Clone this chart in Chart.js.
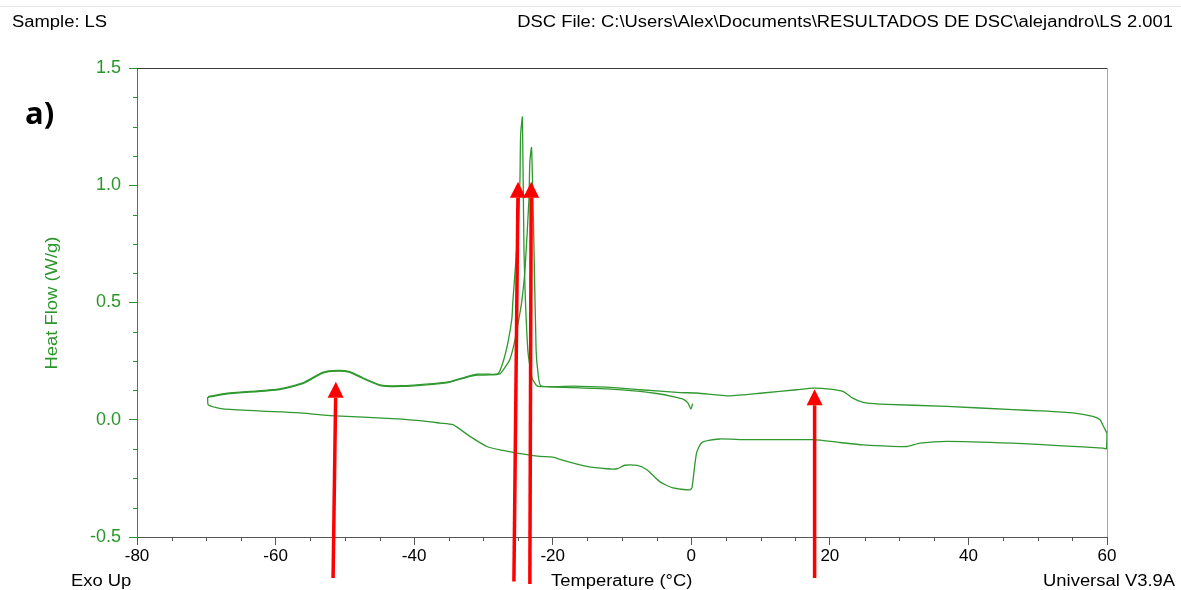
<!DOCTYPE html>
<html>
<head>
<meta charset="utf-8">
<script src="https://cdn.jsdelivr.net/npm/chart.js@4.4.0/dist/chart.umd.min.js"></script>
<style>
  body { margin: 0; background: #fff; }
</style>
</head>
<body>
<canvas id="dsc" width="1181" height="590"></canvas>
<script>
// DSC trace: temperature (°C) vs heat flow (W/g)
// first cooling, starts at 0 °C
const cool1Temp = [0.2, -0.06, -0.5, -1.2, -2.65, -5, -7.4, -12.2, -17, -21.5, -22.3, -23.0, -23.6, -24.15, -24.37, -24.63, -24.73, -25.0, -25.74, -25.9, -26.46, -27.2, -27.9, -29.1, -30.9, -32.4, -34.8, -37.3, -42.0, -44.9, -47.4, -49.3, -51.1, -53.2, -56.0, -59.4, -66.6, -69.75];
const cool1Flow = [0.068, 0.046, 0.072, 0.088, 0.099, 0.112, 0.121, 0.132, 0.137, 0.141, 0.145, 0.18, 0.30, 0.725, 1.29, 1.215, 1.02, 0.81, 0.51, 0.43, 0.33, 0.243, 0.196, 0.194, 0.194, 0.184, 0.163, 0.154, 0.145, 0.149, 0.179, 0.205, 0.21, 0.202, 0.158, 0.132, 0.114, 0.099];

// heating -70 -> 60 °C
const heatTemp = [-69.8, -69.7, -67.6, -62, -56.9, -52.15, -42.5, -39.2, -36.3, -34.4, -31.95, -29.5, -27.2, -25.2, -21.85, -20.0, -17.95, -15.1, -12.2, -10.7, -9.6, -7.8, -6.4, -4.5, -2.65, -0.2, 0.1, 0.76, 1.48, 2.5, 4.1, 8.0, 17.6, 21.45, 24.8, 31.1, 33.0, 36.9, 46.4, 53.6, 59.4, 59.9, 60.0];
const heatFlow = [0.097, 0.063, 0.046, 0.037, 0.030, 0.018, 0.004, -0.004, -0.014, -0.021, -0.071, -0.114, -0.131, -0.142, -0.156, -0.159, -0.178, -0.199, -0.209, -0.209, -0.194, -0.195, -0.213, -0.265, -0.291, -0.299, -0.29, -0.141, -0.098, -0.088, -0.082, -0.085, -0.085, -0.097, -0.107, -0.114, -0.1, -0.092, -0.1, -0.111, -0.121, -0.124, -0.057];

// second cooling 60 -> -70 °C
const cool2Temp = [60.0, 59.5, 59.0, 57.95, 55.1, 50.3, 46.4, 36.9, 27.2, 24.8, 23.3, 21.9, 20.0, 17.6, 15.2, 10.3, 5.6, 0.8, -1.6, -7.4, -12.2, -17, -21.7, -22.14, -22.4, -22.7, -23.05, -23.3, -23.43, -24.0, -24.44, -24.73, -25.45, -26.2, -27.2, -27.6, -29.1, -30.9, -32.4, -34.8, -37.3, -42.0, -44.9, -47.4, -49.3, -51.1, -53.2, -56.0, -59.4, -66.6, -69.75];
const cool2Flow = [-0.057, -0.029, 0.0, 0.014, 0.029, 0.038, 0.043, 0.057, 0.067, 0.074, 0.092, 0.121, 0.131, 0.135, 0.128, 0.114, 0.102, 0.114, 0.116, 0.128, 0.139, 0.143, 0.145, 0.205, 0.30, 0.725, 1.16, 1.10, 0.94, 0.64, 0.51, 0.456, 0.34, 0.256, 0.21, 0.196, 0.191, 0.19, 0.181, 0.161, 0.151, 0.142, 0.146, 0.176, 0.202, 0.207, 0.199, 0.155, 0.129, 0.111, 0.096];

// axis range / ticks
const xMin = -80, xMax = 60, xStep = 20, xMinor = 5;
const yMin = -0.5, yMax = 1.5, yStep = 0.5, yMinor = 0.125;

// red arrows (annotations): tip and tail in data units
const arrowTipTemp = [-51.3, -25.0, -23.1, 17.8];
const arrowTipFlow = [0.162, 1.015, 1.015, 0.13];
const arrowTailTemp = [-51.7, -25.6, -23.3, 17.8];
const arrowTailFlow = [-0.675, -0.69, -0.70, -0.675];

const GREEN = '#2a962a';
const LINE = '#2f982f';
const FONT = '"Liberation Sans", Arial, sans-serif';

function toPoints(ts, vs) {
  return ts.map((t, i) => ({ x: t, y: vs[i] }));
}

// stretched text like the instrument printout
function stretchText(ctx, str, x, y, align, font, color, sx) {
  ctx.save();
  ctx.font = font;
  ctx.fillStyle = color;
  ctx.textAlign = align;
  ctx.translate(x, y);
  ctx.scale(sx, 1);
  ctx.fillText(str, 0, 0);
  ctx.restore();
}

function seg(ctx, x1, y1, x2, y2) {
  ctx.beginPath();
  ctx.moveTo(x1, y1);
  ctx.lineTo(x2, y2);
  ctx.stroke();
}

const decor = {
  id: 'decor',
  beforeDraw(chart) {
    const ctx = chart.ctx;
    ctx.save();
    ctx.fillStyle = '#fff';
    ctx.fillRect(0, 0, chart.width, chart.height);
    ctx.strokeStyle = '#e6e6e6';
    ctx.lineWidth = 1;
    seg(ctx, 0, 6.5, chart.width, 6.5);
    ctx.restore();
  },
  afterDatasetsDraw(chart) {
    const { ctx, scales: { x, y } } = chart;
    ctx.save();
    ctx.strokeStyle = '#ff0000';
    ctx.fillStyle = '#ff0000';
    ctx.lineWidth = 3.5;
    arrowTipTemp.forEach((t, i) => {
      const tx = x.getPixelForValue(t), ty = y.getPixelForValue(arrowTipFlow[i]);
      const bx = x.getPixelForValue(arrowTailTemp[i]), by = y.getPixelForValue(arrowTailFlow[i]);
      const ang = Math.atan2(ty - by, tx - bx);
      const hl = 16, hw = 8;
      const hx = tx - hl * Math.cos(ang), hy = ty - hl * Math.sin(ang);
      seg(ctx, bx, by, hx, hy);
      ctx.beginPath();
      ctx.moveTo(tx, ty);
      ctx.lineTo(hx + hw * Math.sin(ang), hy - hw * Math.cos(ang));
      ctx.lineTo(hx - hw * Math.sin(ang), hy + hw * Math.cos(ang));
      ctx.closePath();
      ctx.fill();
    });
    ctx.restore();
  },
  afterDraw(chart) {
    const { ctx, chartArea: a, scales: { x, y } } = chart;
    ctx.save();
    ctx.lineWidth = 1;
    // frame: dark top, green right
    ctx.strokeStyle = '#3c3c3c';
    seg(ctx, a.left, a.top + 0.5, a.right, a.top + 0.5);
    ctx.strokeStyle = '#7cc47c';
    seg(ctx, a.right + 0.5, a.top, a.right + 0.5, a.bottom);

    // minor ticks
    ctx.strokeStyle = '#555';
    for (let t = xMin; t <= xMax; t += xMinor) {
      if ((t - xMin) % xStep === 0) continue;
      const px = Math.round(x.getPixelForValue(t)) + 0.5;
      seg(ctx, px, a.bottom, px, a.bottom + 4);
    }
    ctx.strokeStyle = GREEN;
    for (let v = yMin; v <= yMax + 1e-9; v += yMinor) {
      if (Math.abs((v - yMin) / yStep - Math.round((v - yMin) / yStep)) < 1e-6) continue;
      const py = Math.round(y.getPixelForValue(v)) + 0.5;
      seg(ctx, a.left - 4, py, a.left, py);
    }

    // header / footer texts
    const f = '16px ' + FONT;
    stretchText(ctx, 'Sample: LS', 12, 27, 'left', f, '#000', 1.15);
    stretchText(ctx, 'DSC File: C:\\Users\\Alex\\Documents\\RESULTADOS DE DSC\\alejandro\\LS 2.001', 1173, 27, 'right', f, '#000', 1.15);
    stretchText(ctx, 'Exo Up', 71, 586, 'left', f, '#000', 1.15);
    stretchText(ctx, 'Temperature (°C)', 551, 586, 'left', f, '#000', 1.15);
    stretchText(ctx, 'Universal V3.9A', 1175, 586, 'right', f, '#000', 1.15);
    stretchText(ctx, 'a)', 25, 124, 'left', 'bold 31px "Open Sans", sans-serif', '#000', 1);

    // y axis title
    ctx.save();
    ctx.translate(57, 303);
    ctx.rotate(-Math.PI / 2);
    ctx.scale(1.15, 1);
    ctx.font = f;
    ctx.fillStyle = GREEN;
    ctx.textAlign = 'center';
    ctx.fillText('Heat Flow (W/g)', 0, 0);
    ctx.restore();
    ctx.restore();
  }
};

const lineStyle = {
  borderColor: LINE,
  borderWidth: 1.3,
  pointRadius: 0,
  showLine: true,
  fill: false,
  tension: 0.2,
  clip: 4
};

new Chart(document.getElementById('dsc').getContext('2d'), {
  type: 'scatter',
  data: {
    datasets: [
      { label: 'Cooling 1', data: toPoints(cool1Temp, cool1Flow), ...lineStyle },
      { label: 'Heating', data: toPoints(heatTemp, heatFlow), ...lineStyle },
      { label: 'Cooling 2', data: toPoints(cool2Temp, cool2Flow), ...lineStyle }
    ]
  },
  options: {
    responsive: false,
    animation: false,
    devicePixelRatio: 1,
    layout: { padding: { top: 68, right: 74, left: 0, bottom: 0 } },
    plugins: { legend: { display: false }, tooltip: { enabled: false } },
    scales: {
      x: {
        type: 'linear',
        min: xMin,
        max: xMax,
        afterFit: s => { s.height = 53; },
        ticks: {
          stepSize: xStep,
          color: '#000',
          font: { family: FONT, size: 17 },
          padding: 1,
          maxRotation: 0
        },
        grid: { drawOnChartArea: false, drawTicks: true, tickLength: 8, color: '#555' },
        border: { display: true, color: '#555' }
      },
      y: {
        min: yMin,
        max: yMax,
        afterFit: s => { s.width = 137; },
        ticks: {
          stepSize: yStep,
          color: GREEN,
          font: { family: FONT, size: 18 },
          padding: 8,
          callback: v => v.toFixed(1)
        },
        grid: { drawOnChartArea: false, drawTicks: true, tickLength: 8, color: GREEN },
        border: { display: true, color: GREEN }
      }
    }
  },
  plugins: [decor]
});
</script>
</body>
</html>
